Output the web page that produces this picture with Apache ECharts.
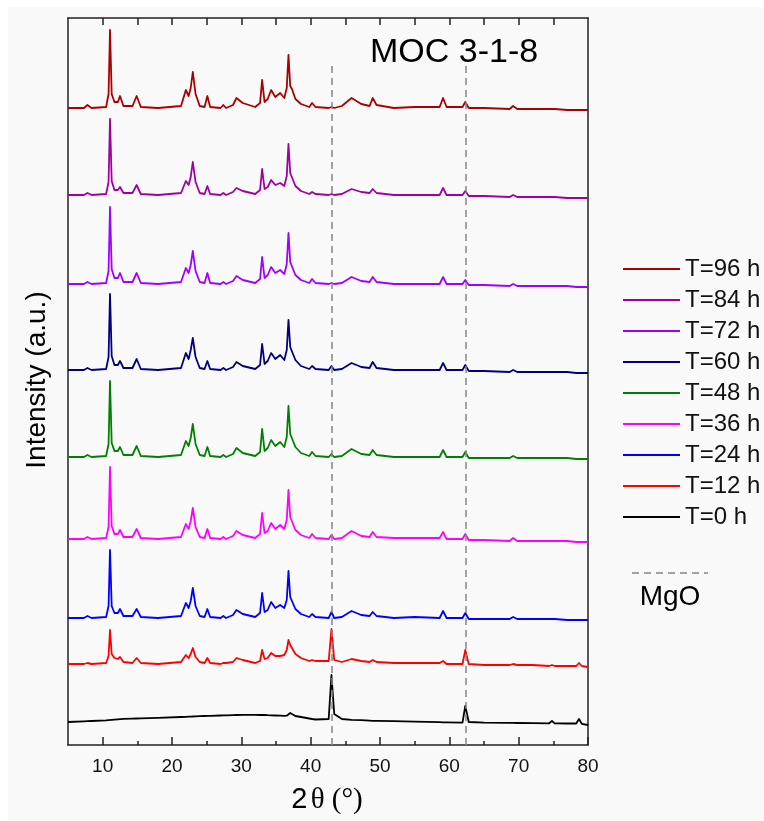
<!DOCTYPE html>
<html>
<head>
<meta charset="utf-8">
<script src="https://cdn.jsdelivr.net/npm/echarts@6/dist/echarts.min.js"></script>
<style>
  html, body { margin: 0; padding: 0; background: #ffffff; }
  #chart { position: absolute; left: 8px; top: 7px; width: 756px; height: 814px; }
</style>
</head>
<body>
<div id="chart"></div>
<script>
// Diffraction angle grid (2θ, degrees) shared by all patterns
const twoTheta = [
  5, 7.3, 7.8, 8.4, 10.5, 10.85, 11.06, 11.3, 11.7, 12.2,
  12.5, 13.0, 14.3, 14.9, 15.5, 18, 21.3, 22.0, 22.4, 22.7,
  23.0, 23.4, 24.0, 24.7, 25.1, 25.5, 27.0, 27.4, 27.8, 28.8,
  29.3, 30.2, 32.0, 32.7, 33.0, 33.35, 33.8, 34.3, 34.9, 35.6,
  36.2, 36.55, 36.8, 37.05, 37.3, 37.8, 38.6, 39.8, 40.2, 40.7,
  42.6, 43.0, 43.4, 44.5, 45.9, 47.3, 48.5, 48.95, 49.5, 52,
  55, 58.6, 59.1, 59.6, 61.9, 62.3, 62.8, 65, 68.7, 69.2,
  69.8, 72, 74.4, 74.8, 75.2, 77, 78.3, 78.7, 79.1, 80
];

// Curing-time labels, top to bottom
const labels = ['T=96 h', 'T=84 h', 'T=72 h', 'T=60 h', 'T=48 h', 'T=36 h', 'T=24 h', 'T=12 h', 'T=0 h'];

// Intensities (a.u.) above each pattern's own baseline
const int96 = [
  0, 0, 3, 0, 1, 14, 78, 14, 6, 6,
  12, 2, 2, 12, 1, 0, 2, 18, 12, 20,
  36, 14, 2, 1, 12, 1, 0, 3, 0, 3,
  10, 5, 1, 5, 28, 6, 9, 18, 11, 15,
  10, 20, 53, 22, 19, 9, 4, 1, 5, 1,
  0, 1, 0, 2, 10, 4, 2, 10, 3, 0,
  1, 1, 10, 1, 1, 6, 0, 0, -1, 2,
  -1, -1, -1, -1, -1, -2, -2, -2, -2, -2
];
const int84 = [
  0, 0, 2, 0, 1, 13, 76, 14, 5, 5,
  8, 2, 2, 10, 1, 0, 2, 14, 10, 18,
  33, 13, 2, 1, 9, 1, 0, 2, 0, 3,
  7, 4, 1, 5, 26, 6, 8, 15, 10, 12,
  9, 19, 51, 22, 21, 9, 4, 1, 3, 1,
  0, 1, 0, 1, 6, 3, 2, 6, 2, 0,
  0, 0, 7, 0, 0, 4, -1, -1, -2, 0,
  -2, -2, -2, -2, -2, -3, -3, -3, -3, -3
];
const int72 = [
  0, 0, 2, 0, 1, 13, 77, 15, 6, 6,
  11, 2, 2, 11, 1, 0, 2, 16, 11, 19,
  33, 13, 2, 1, 11, 1, 0, 2, 0, 3,
  8, 4, 1, 5, 27, 6, 9, 17, 11, 14,
  10, 20, 51, 22, 21, 9, 4, 1, 5, 1,
  0, 1, 0, 1, 7, 3, 2, 7, 2, 0,
  0, 0, 7, 0, 0, 4, -1, -1, -2, 0,
  -2, -2, -2, -2, -2, -2, -3, -3, -3, -3
];
const int60 = [
  0, 0, 2, 0, 1, 13, 76, 14, 5, 5,
  9, 2, 2, 11, 1, 0, 2, 17, 11, 20,
  32, 13, 2, 1, 9, 1, 0, 2, 0, 3,
  8, 4, 1, 5, 26, 6, 9, 17, 11, 15,
  10, 20, 50, 23, 22, 10, 4, 1, 4, 1,
  0, 4, 0, 1, 7, 3, 2, 8, 2, 0,
  0, 0, 7, 0, 0, 5, -1, -1, -2, 0,
  -2, -2, -2, -2, -2, -2, -3, -3, -3, -3
];
const int48 = [
  0, 0, 2, 0, 1, 13, 76, 14, 6, 6,
  10, 2, 2, 11, 1, 0, 2, 16, 11, 19,
  33, 13, 2, 1, 10, 1, 0, 2, 0, 3,
  9, 4, 1, 5, 28, 6, 9, 17, 11, 15,
  10, 20, 51, 23, 22, 10, 4, 1, 5, 1,
  0, 3, 0, 1, 8, 3, 2, 7, 2, 0,
  0, 0, 7, 0, 0, 5, -1, -1, -1, 1,
  -1, -1, -1, -1, -1, -1, -2, -2, -2, -2
];
const int36 = [
  0, 0, 2, 0, 1, 12, 72, 13, 5, 5,
  9, 2, 2, 10, 1, 0, 2, 15, 10, 18,
  31, 12, 2, 1, 10, 1, 0, 2, 0, 3,
  8, 4, 1, 5, 26, 6, 8, 16, 10, 14,
  10, 19, 49, 22, 21, 9, 4, 1, 5, 1,
  0, 4, 0, 1, 8, 3, 2, 7, 2, 1,
  1, 1, 7, 0, 0, 5, -1, -1, -2, 1,
  -2, -2, -2, -2, -2, -2, -3, -3, -3, -3
];
const int24 = [
  0, 0, 2, 0, 1, 12, 68, 12, 5, 5,
  9, 2, 2, 9, 1, 0, 2, 15, 10, 17,
  30, 12, 2, 1, 9, 1, 0, 2, 0, 3,
  8, 4, 1, 5, 25, 6, 8, 16, 10, 13,
  10, 18, 47, 21, 21, 9, 4, 1, 4, 1,
  0, 6, 0, 1, 7, 3, 2, 6, 2, 0,
  1, 0, 7, 0, 0, 5, -1, -1, -1, 1,
  -1, -1, -1, -1, -1, -2, -2, -2, -2, -2
];
const int12 = [
  0, 0, 1, 0, 1, 8, 34, 10, 6, 5,
  7, 2, 1, 6, 1, 0, 2, 9, 6, 10,
  16, 7, 2, 1, 6, 1, 0, 1, 1, 2,
  6, 4, 1, 3, 14, 5, 6, 11, 8, 8,
  9, 14, 24, 19, 17, 10, 6, 3, 4, 3,
  3, 35, 4, 2, 5, 3, 2, 4, 2, 1,
  1, 1, 3, 0, 0, 14, 0, -1, -1, 0,
  -1, -1, -2, -1, -2, -2, -2, 1, -2, -3
];
const int0 = [
  0, 0.6, 0.8, 1.0, 1.6, 1.8, 2.0, 2.1, 2.4, 2.7,
  2.9, 3.1, 3.4, 3.5, 3.6, 4.2, 5.0, 5.2, 5.3, 5.4,
  5.5, 5.6, 5.8, 6.0, 6.1, 6.2, 6.5, 6.6, 6.7, 6.9,
  7.0, 7.1, 7.1, 7.0, 7.0, 7.0, 6.8, 6.7, 6.5, 6.3,
  6.2, 6.3, 7.0, 9.0, 10.0, 6.0, 5.0, 3.5, 3.0, 2.5,
  3.0, 47, 8.0, 3.0, 2.2, 1.8, 1.4, 1.2, 1.1, 0.8,
  0.3, -0.2, -0.3, -0.4, -0.6, 16, 0, -0.6, -0.8, -0.9,
  -1.0, -1.1, -1.3, 1.0, -1.4, -1.5, -1.5, 3.0, -1.8, -3.0
];

// Vertical stacking offset of each pattern (same order as labels)
const stackOffset = [637, 550, 461, 375, 288, 206, 127, 81, 23];

// Reference MgO reflections (2θ)
const mgoPeaks = [43.0, 62.4];

// Axis ticks
const majorTicks = [10, 20, 30, 40, 50, 60, 70, 80];
const minorTicks = [15, 25, 35, 45, 55, 65, 75];
const topTicks = [10, 15, 20, 25, 30, 35, 40, 45, 50, 55, 60, 65, 70, 75];

const intensities = [int96, int84, int72, int60, int48, int36, int24, int12, int0];
const colors = ['#aa0000', '#a000a0', '#a000ff', '#000080', '#008000', '#ff00ff', '#0000ff', '#ff0000', '#000000'];

const SANS = '"Liberation Sans", Arial, Helvetica, sans-serif';
const SERIF = '"Liberation Serif", "Times New Roman", serif';
const frame = { color: '#222222', width: 1.5 };

const series = labels.map((name, k) => ({
  name: name,
  type: 'line',
  xAxisIndex: 0,
  yAxisIndex: 0,
  symbol: 'none',
  animation: false,
  z: 3,
  lineStyle: { color: colors[k], width: 1.8, join: 'round' },
  itemStyle: { color: colors[k] },
  data: twoTheta.map((t, i) => [t, stackOffset[k] + intensities[k][i]])
}));

// Dashed guides at the MgO reflections
series.push({
  name: 'MgO',
  type: 'line',
  xAxisIndex: 0,
  yAxisIndex: 0,
  data: [],
  animation: false,
  markLine: {
    silent: true,
    symbol: 'none',
    animation: false,
    label: { show: false },
    lineStyle: { color: '#858585', type: [7, 5], width: 1.5 },
    data: mgoPeaks.map(p => [{ coord: [p, 0] }, { coord: [p, 679] }])
  }
});

const chart = echarts.init(document.getElementById('chart'), null, { renderer: 'canvas' });

chart.setOption({
  backgroundColor: '#f9f9f9',
  animation: false,
  grid: { left: 60, top: 11, width: 520, height: 727, containLabel: false },
  xAxis: [
    {
      type: 'value', min: 5, max: 80, interval: 5, position: 'bottom',
      axisLine: { show: true, lineStyle: frame },
      axisTick: { show: true, inside: true, length: 8, customValues: majorTicks, lineStyle: frame },
      axisLabel: { show: true, customValues: majorTicks, fontSize: 19, color: '#111', fontFamily: SANS, margin: 12 },
      splitLine: { show: false }
    },
    {
      type: 'value', min: 5, max: 80, interval: 5, position: 'bottom',
      axisLine: { show: false },
      axisTick: { show: true, inside: true, length: 4, customValues: minorTicks, lineStyle: frame },
      axisLabel: { show: false },
      splitLine: { show: false }
    },
    {
      type: 'value', min: 5, max: 80, interval: 5, position: 'top',
      axisLine: { show: true, lineStyle: frame },
      axisTick: { show: true, inside: true, length: 7, customValues: topTicks, lineStyle: frame },
      axisLabel: { show: false },
      splitLine: { show: false }
    }
  ],
  yAxis: [
    {
      type: 'value', min: 0, max: 727, position: 'left',
      axisLine: { show: true, lineStyle: frame },
      axisTick: { show: false }, axisLabel: { show: false }, splitLine: { show: false }
    },
    {
      type: 'value', min: 0, max: 727, position: 'right',
      axisLine: { show: true, lineStyle: frame },
      axisTick: { show: false }, axisLabel: { show: false }, splitLine: { show: false }
    }
  ],
  legend: {
    orient: 'vertical',
    left: 610,
    top: 245,
    itemWidth: 57,
    itemHeight: 2,
    itemGap: 7,
    icon: 'rect',
    selectedMode: false,
    data: labels,
    textStyle: { fontSize: 24, color: '#111', fontFamily: SANS }
  },
  graphic: [
    {
      type: 'text', silent: true,
      style: { text: 'MOC 3-1-8', x: 362, y: 46, textAlign: 'left', textVerticalAlign: 'middle',
               font: '34px ' + SANS, fill: '#000' }
    },
    {
      type: 'text', silent: true, x: 29, y: 373, rotation: Math.PI / 2,
      style: { text: 'Intensity (a.u.)', x: 0, y: 0, textAlign: 'center', textVerticalAlign: 'middle',
               font: '28px ' + SANS, fill: '#000' }
    },
    {
      type: 'text', silent: true,
      style: {
        text: '{a|2} {b|θ (°)}', x: 319, y: 793, textAlign: 'center', textVerticalAlign: 'middle',
        fill: '#000',
        rich: {
          a: { fontFamily: SANS, fontSize: 29, fill: '#000', color: '#000' },
          b: { fontFamily: SERIF, fontSize: 29, fill: '#000', color: '#000' }
        }
      }
    },
    {
      type: 'line', silent: true,
      shape: { x1: 624, y1: 566, x2: 700, y2: 566 },
      style: { stroke: '#858585', lineWidth: 1.5, lineDash: [7, 5] }
    },
    {
      type: 'text', silent: true,
      style: { text: 'MgO', x: 662, y: 590, textAlign: 'center', textVerticalAlign: 'middle',
               font: '28px ' + SANS, fill: '#000' }
    }
  ],
  series: series
});
</script>
</body>
</html>
